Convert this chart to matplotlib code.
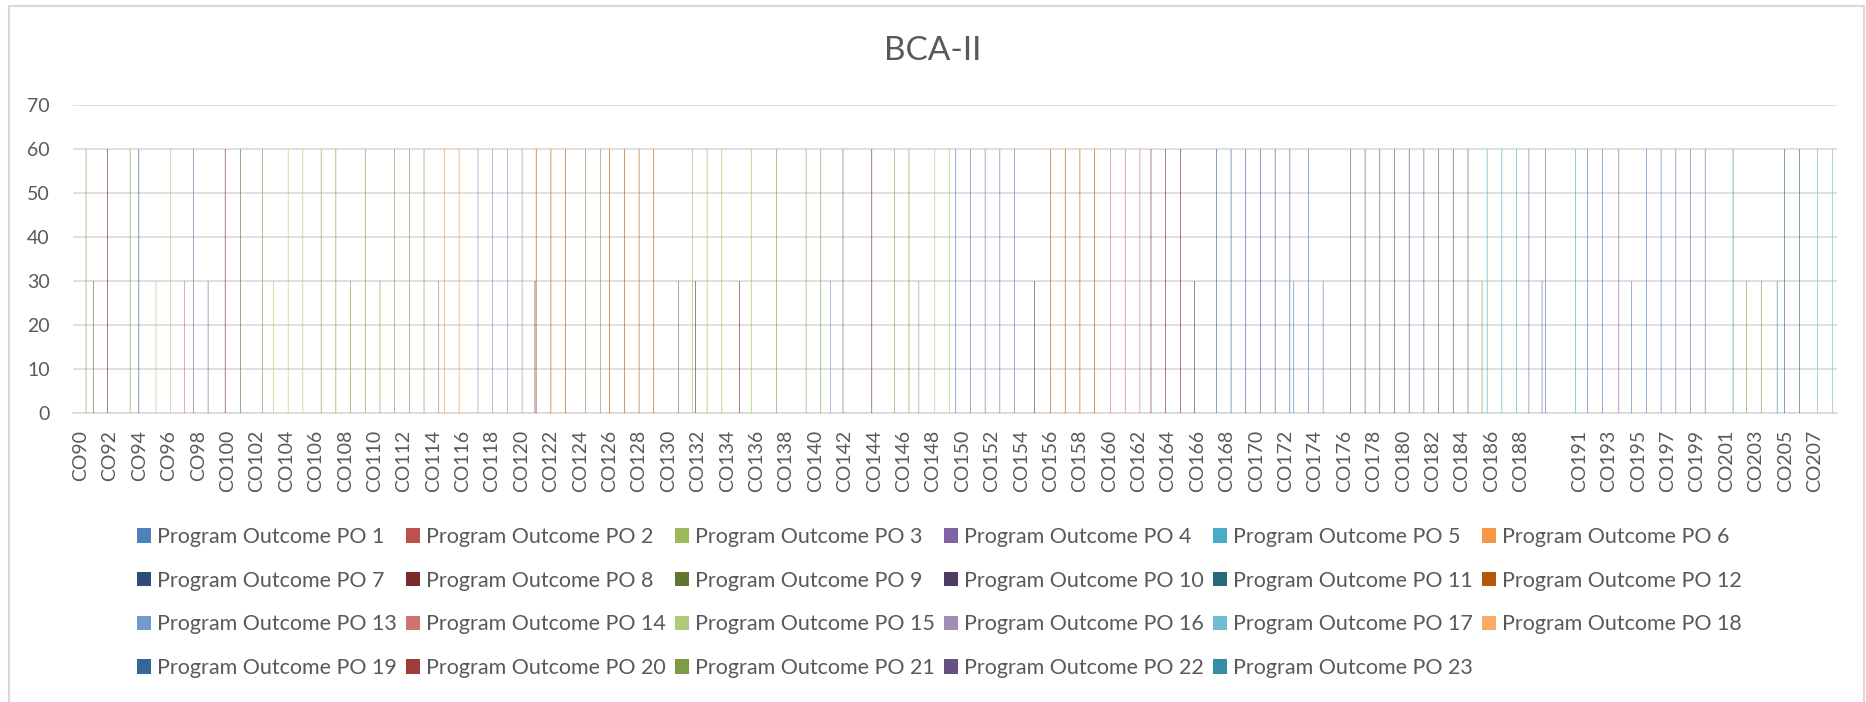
import numpy as np
import pandas as pd
import matplotlib
matplotlib.use("Agg")
import matplotlib.pyplot as plt
from matplotlib.patches import Rectangle

plt.rcParams['font.family'] = ['Lato', 'DejaVu Sans']

# course outcomes on the x axis (one category has no name in the sheet)
courses = ["CO%d" % n for n in range(90, 190)] + [""] + ["CO%d" % n for n in range(190, 209)]

series_names = ["Program Outcome PO %d" % n for n in range(1, 24)]
series_colors = ["#4F81BD", "#C0504D", "#9BBB59", "#8064A2", "#4BACC6", "#F79646",
                 "#2C4D75", "#772C2A", "#5F7530", "#4D3B62", "#276A7C", "#B65708",
                 "#729ACA", "#CD7371", "#AFC97A", "#A18CB6", "#6FBDD1", "#F9AB6B",
                 "#3A6599", "#9C3D3A", "#7F9A48", "#675083", "#358EA6"]

# non-zero cells: course, PO number, value
mark_course = ["CO90", "CO91", "CO92", "CO93", "CO94", "CO95", "CO96", "CO97", "CO98", "CO99",
               "CO100", "CO101", "CO102", "CO103", "CO104", "CO105", "CO106", "CO107", "CO108", "CO109",
               "CO110", "CO111", "CO112", "CO113", "CO114", "CO115", "CO116", "CO117", "CO118", "CO119",
               "CO120", "CO121", "CO121", "CO122", "CO123", "CO124", "CO125", "CO126", "CO127", "CO128",
               "CO129", "CO131", "CO132", "CO132", "CO133", "CO134", "CO135", "CO136", "CO137", "CO139",
               "CO140", "CO141", "CO142", "CO144", "CO145", "CO146", "CO147", "CO148", "CO149", "CO150",
               "CO151", "CO152", "CO153", "CO154", "CO155", "CO156", "CO157", "CO158", "CO159", "CO160",
               "CO161", "CO162", "CO163", "CO164", "CO165", "CO166", "CO167", "CO168", "CO169", "CO170",
               "CO171", "CO172", "CO173", "CO174", "CO175", "CO176", "CO177", "CO178", "CO179", "CO180",
               "CO181", "CO182", "CO183", "CO184", "CO185", "CO186", "CO187", "CO188", "CO189", "CO189",
               "", "CO191", "CO192", "CO193", "CO194", "CO195", "CO196", "CO197", "CO198", "CO199",
               "CO200", "CO201", "CO202", "CO203", "CO204", "CO205", "CO206", "CO207", "CO208"]
mark_po = [21, 9, 8, 21, 11, 15, 15, 14, 4, 4,
           8, 9, 21, 15, 15, 15, 21, 21, 21, 21,
           21, 21, 21, 21, 21, 6, 6, 13, 13, 13,
           13, 10, 12, 12, 12, 21, 21, 12, 12, 12,
           12, 4, 3, 8, 3, 3, 8, 3, 21, 21,
           21, 13, 9, 8, 21, 21, 13, 15, 15, 1,
           1, 1, 1, 1, 10, 12, 12, 12, 12, 14,
           14, 14, 8, 8, 8, 7, 19, 19, 19, 19,
           19, 19, 1, 1, 1, 22, 22, 22, 22, 22,
           22, 22, 22, 22, 21, 5, 5, 5, 1, 23,
           4, 5, 1, 1, 4, 1, 1, 1, 1, 1,
           1, 23, 21, 21, 23, 11, 11, 17, 17]
mark_value = [60, 30, 60, 60, 60, 30, 60, 30, 60, 30,
              60, 60, 60, 30, 60, 60, 60, 60, 30, 60,
              30, 60, 60, 60, 30, 60, 60, 60, 60, 60,
              60, 30, 60, 60, 60, 60, 60, 60, 60, 60,
              60, 30, 60, 30, 60, 60, 30, 60, 60, 60,
              60, 30, 60, 60, 60, 60, 30, 60, 60, 60,
              60, 60, 60, 60, 30, 60, 60, 60, 60, 60,
              60, 60, 60, 60, 60, 30, 60, 60, 60, 60,
              60, 60, 30, 60, 30, 60, 60, 60, 60, 60,
              60, 60, 60, 60, 30, 60, 60, 60, 60, 30,
              60, 60, 60, 60, 60, 30, 60, 60, 60, 60,
              60, 60, 30, 30, 30, 60, 60, 60, 60]

table = pd.DataFrame(0.0, index=range(len(courses)), columns=series_names)
pos = {c: i for i, c in enumerate(courses)}
for c, p, v in zip(mark_course, mark_po, mark_value):
    table.iloc[pos[c], p - 1] = v


def main():
    fig = plt.figure(figsize=(18.66, 7.02), dpi=100)
    ax = fig.add_axes([73.3 / 1866, 1 - 413 / 702, (1836.7 - 73.3) / 1866, (413 - 105) / 702])

    n = len(series_names)
    bw = 1.0 / (n + 1.5)
    x = np.arange(len(courses))
    for i, name in enumerate(series_names):
        ax.bar(x + (i - (n - 1) / 2) * bw, table[name].values, width=bw,
               color=series_colors[i], linewidth=0, snap=False, label=name, zorder=3)

    ax.set_xlim(-0.5, len(courses) - 0.5)
    ax.set_ylim(0, 70)
    ax.set_yticks(range(0, 71, 10))
    ax.set_xticks(x[::2])
    ax.set_xticklabels(courses[::2], rotation=90)
    ax.grid(axis='y', color='#D9D9D9', linewidth=1.2, zorder=0)
    ax.tick_params(axis='both', length=0, labelsize=14, colors='#595959')
    ax.tick_params(axis='y', pad=17)
    ax.tick_params(axis='x', pad=12)
    for s in ['top', 'right', 'left']:
        ax.spines[s].set_visible(False)
    ax.spines['bottom'].set_color('#D9D9D9')
    ax.spines['bottom'].set_linewidth(1.2)

    fig.text(0.5, 1 - 51 / 702, "BCA-II", ha='center', va='center', fontsize=24, color='#595959')

    # legend reads row by row like Excel; matplotlib fills columns first
    handles, labels = ax.get_legend_handles_labels()
    ncol = 6
    order = [r * ncol + c for c in range(ncol) for r in range(4) if r * ncol + c < n]
    fig.legend([handles[k] for k in order], [labels[k] for k in order], ncol=ncol,
               loc='upper left', bbox_to_anchor=(137 / 1866, 1 - 527 / 702), frameon=False,
               fontsize=15.5, labelcolor='#595959', handlelength=0.65, handleheight=0.65,
               handletextpad=0.3, columnspacing=0.4, labelspacing=1.1,
               borderpad=0, borderaxespad=0)

    fig.patches.append(Rectangle((9 / 1866, -0.02), (1864 - 9) / 1866, 1 - 6 / 702 + 0.02,
                                 transform=fig.transFigure, fill=False,
                                 edgecolor='#D9D9D9', linewidth=1.5))

    fig.savefig("out.png", dpi=100)


if __name__ == "__main__":
    main()
